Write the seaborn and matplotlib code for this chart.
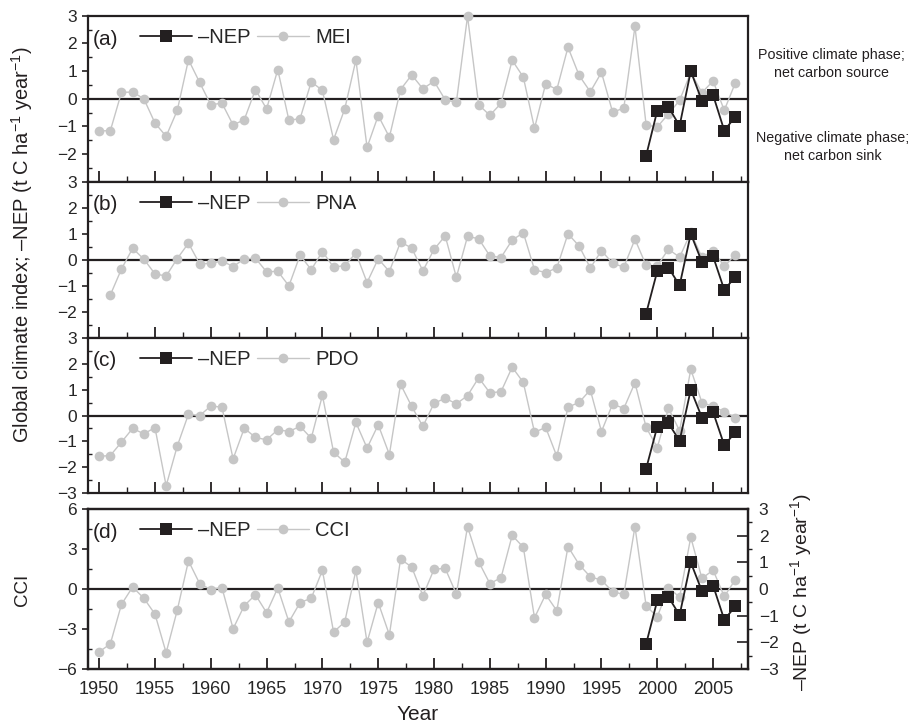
import numpy as np
import pandas as pd
import matplotlib
matplotlib.use("Agg")
import matplotlib.pyplot as plt
import seaborn as sns
from matplotlib.lines import Line2D
from matplotlib.ticker import MultipleLocator

sns.set_theme(style="white")
plt.rcParams['font.family'] = ['Liberation Sans', 'DejaVu Sans']
plt.rcParams['mathtext.fontset'] = 'custom'
plt.rcParams['mathtext.rm'] = 'Liberation Sans'
plt.rcParams['mathtext.it'] = 'Liberation Sans'

years = list(range(1950, 2008))
nep_years = list(range(1999, 2008))
neg_nep = [-2.06, -0.43, -0.30, -0.98, 1.00, -0.08, 0.13, -1.15, -0.65]

mei = [-1.16, -1.16, 0.23, 0.24, 0.00, -0.88, -1.36, -0.42, 1.41, 0.59,
       -0.22, -0.16, -0.95, -0.76, 0.33, -0.37, 1.05, -0.78, -0.72, 0.61,
       0.30, -1.48, -0.37, 1.40, -1.76, -0.61, -1.39, 0.33, 0.86, 0.36,
       0.63, -0.04, -0.13, 2.98, -0.22, -0.60, -0.17, 1.39, 0.78, -1.07,
       0.54, 0.33, 1.86, 0.84, 0.25, 0.95, -0.49, -0.34, 2.61, -0.95,
       -1.02, -0.55, -0.06, 0.95, 0.22, 0.64, -0.42, 0.58]

pna = [np.nan, -1.35, -0.35, 0.44, 0.03, -0.54, -0.62, 0.05, 0.64, -0.15,
       -0.14, -0.04, -0.26, 0.04, 0.06, -0.46, -0.44, -1.00, 0.18, -0.38,
       0.32, -0.28, -0.22, 0.26, -0.87, 0.04, -0.45, 0.69, 0.45, -0.42,
       0.40, 0.92, -0.67, 0.90, 0.81, 0.15, 0.09, 0.76, 1.04, -0.38,
       -0.49, -0.31, 1.00, 0.53, -0.31, 0.35, -0.13, -0.28, 0.79, -0.21,
       -0.23, 0.41, 0.10, 1.05, 0.10, 0.35, -0.25, 0.20]

pdo = [-1.58, -1.55, -1.03, -0.50, -0.71, -0.47, -2.72, -1.18, 0.05, -0.01,
       0.37, 0.32, -1.68, -0.49, -0.85, -0.94, -0.55, -0.62, -0.42, -0.88,
       0.78, -1.42, -1.81, -0.27, -1.26, -0.36, -1.51, 1.21, 0.35, -0.42,
       0.47, 0.67, 0.45, 0.77, 1.46, 0.88, 0.92, 1.87, 1.28, -0.65,
       -0.46, -1.58, 0.32, 0.51, 0.99, -0.62, 0.45, 0.27, 1.27, -0.46,
       -1.24, 0.28, -0.59, 1.79, 0.50, 0.35, 0.15, -0.08]

cci = [-4.71, -4.12, -1.15, 0.15, -0.69, -1.88, -4.78, -1.58, 2.11, 0.41,
       -0.05, 0.10, -2.98, -1.25, -0.43, -1.78, 0.08, -2.47, -1.02, -0.69,
       1.40, -3.23, -2.47, 1.40, -4.00, -1.02, -3.44, 2.24, 1.65, -0.51,
       1.48, 1.55, -0.38, 4.68, 2.04, 0.41, 0.84, 4.02, 3.13, -2.16,
       -0.41, -1.63, 3.18, 1.83, 0.92, 0.66, -0.20, -0.41, 4.68, -1.27,
       -2.09, 0.10, -0.61, 3.89, 0.79, 1.42, -0.56, 0.71]

df = pd.DataFrame({"Year": years, "MEI": mei, "PNA": pna, "PDO": pdo, "CCI": cci})
nep_df = pd.DataFrame({"Year": nep_years, "NEP": neg_nep})

GRAY = "#c6c6c6"
DARK = "#231f20"
W, H = 916, 727
fig = plt.figure(figsize=(W / 100, H / 100), dpi=100)

left = 88 / W
width = (747.7 - 88) / W

def box(top_px, bot_px):
    return [left, 1 - bot_px / H, width, (bot_px - top_px) / H]

panels = [
    ("(a)", "MEI", box(15.7, 181.7)),
    ("(b)", "PNA", box(181.7, 338)),
    ("(c)", "PDO", box(338, 493)),
    ("(d)", "CCI", box(509, 669)),
]

xtick_fs = 13
ytick_fs = 12.5
axes = []
for letter, col, rect in panels:
    ax = fig.add_axes(rect)
    axes.append(ax)
    ax.axhline(0, color="#231f20", lw=1.6, zorder=1)
    sns.lineplot(data=df, x="Year", y=col, ax=ax, color=GRAY, lw=1.0,
                 marker="o", markersize=7, markeredgewidth=0,
                 markerfacecolor=GRAY, zorder=3, clip_on=False,
                 errorbar=None)
    if col == "CCI":
        ax2 = ax.twinx()
        nep_ax = ax2
        ax2.set_ylim(-3, 3)
    else:
        nep_ax = ax
    sns.lineplot(data=nep_df, x="Year", y="NEP", ax=nep_ax, color=DARK, lw=1.3,
                 marker="s", markersize=9, markeredgewidth=0,
                 markerfacecolor=DARK, zorder=5, clip_on=False, errorbar=None)

    ax.set_xlim(1949.0, 2008.1)
    if col == "CCI":
        ax.set_ylim(-6, 6)
        ax.yaxis.set_minor_locator(MultipleLocator(1.5))
    else:
        ax.set_ylim(-3, 3)
        ax.yaxis.set_minor_locator(MultipleLocator(0.5))
    ax.xaxis.set_major_locator(MultipleLocator(5))
    ax.xaxis.set_minor_locator(MultipleLocator(2.5))
    ax.set_xlabel("")
    ax.set_ylabel("")
    for s in ax.spines.values():
        s.set_linewidth(1.6)
        s.set_color("#231f20")
    ax.tick_params(axis="x", which="major", direction="in", length=8, width=1.3,
                   color="#231f20", bottom=True, top=False, labelsize=xtick_fs,
                   pad=9)
    ax.tick_params(axis="x", which="minor", direction="in", length=4, width=1.0,
                   color="#231f20", bottom=True, top=False)
    ax.tick_params(axis="y", which="major", direction="out", length=4, width=1.2,
                   color="#231f20", left=True, labelsize=ytick_fs, pad=4)
    ax.tick_params(axis="y", which="minor", direction="in", length=3, width=1.0,
                   color="#231f20", left=True)
    if col != "CCI":
        ax.tick_params(axis="x", labelbottom=False)
        yt = [-2, -1, 0, 1, 2, 3] if col != "PDO" else [-3, -2, -1, 0, 1, 2, 3]
        ax.set_yticks(yt)
        ax.set_yticklabels([("\u2212" + str(-v)) if v < 0 else str(v) for v in yt])
    else:
        ax.set_yticks([-6, -3, 0, 3, 6])
        ax.set_yticklabels(["\u22126", "\u22123", "0", "3", "6"])
        ax.set_xticks(list(range(1950, 2006, 5)))
        ax.set_xticklabels([str(v) for v in range(1950, 2006, 5)])
        ax2.set_ylabel("")
        ax2.yaxis.set_minor_locator(MultipleLocator(0.5))
        ax2.set_yticks([-3, -2, -1, 0, 1, 2, 3])
        ax2.set_yticklabels(["\u22123", "\u22122", "\u22121", "0", "1", "2", "3"])
        ax2.tick_params(axis="y", which="major", direction="in", length=8, width=1.2,
                        color="#231f20", right=True, labelsize=ytick_fs, pad=8)
        ax2.tick_params(axis="y", which="minor", direction="out", length=3, width=1.0,
                        color="#231f20", right=True)
        for s in ax2.spines.values():
            s.set_linewidth(1.6)
            s.set_color("#231f20")
    ax.text(0.007, 0.915, letter, transform=ax.transAxes, fontsize=15,
            va="top", ha="left", color="#231f20")
    handles = [
        Line2D([], [], color=DARK, lw=1.3, marker="s", markersize=8,
               markerfacecolor=DARK, markeredgewidth=0),
        Line2D([], [], color=GRAY, lw=1.0, marker="o", markersize=7,
               markerfacecolor=GRAY, markeredgewidth=0),
    ]
    ax.legend(handles, ["\u2013NEP", col], loc="upper left",
              bbox_to_anchor=(0.06, 1.0), ncol=2, frameon=False,
              fontsize=14.5, handlelength=2.6, handletextpad=0.3,
              columnspacing=0.3, borderaxespad=0.2)

axes[3].set_xlabel("Year", fontsize=15, labelpad=5, color="#231f20")

fig.text(22 / W, 1 - 245 / H,
         "Global climate index; \u2013NEP (t C ha$^{-1}$ year$^{-1}$)",
         rotation=90, ha="center", va="center", fontsize=14.5, color="#231f20")
fig.text(22 / W, 1 - 590 / H, "CCI", rotation=90, ha="center", va="center",
         fontsize=13.5, color="#231f20")
fig.text(801 / W, 1 - 592 / H, "\u2013NEP (t C ha$^{-1}$ year$^{-1}$)",
         rotation=90, ha="center", va="center", fontsize=14, color="#231f20")
fig.text(831 / W, 1 - 64 / H, "Positive climate phase;\nnet carbon source",
         ha="center", va="center", fontsize=10.3, color="#231f20", linespacing=1.3)
fig.text(833 / W, 1 - 147 / H, "Negative climate phase;\nnet carbon sink",
         ha="center", va="center", fontsize=10.3, color="#231f20", linespacing=1.3)

fig.savefig("out.png", dpi=100)
